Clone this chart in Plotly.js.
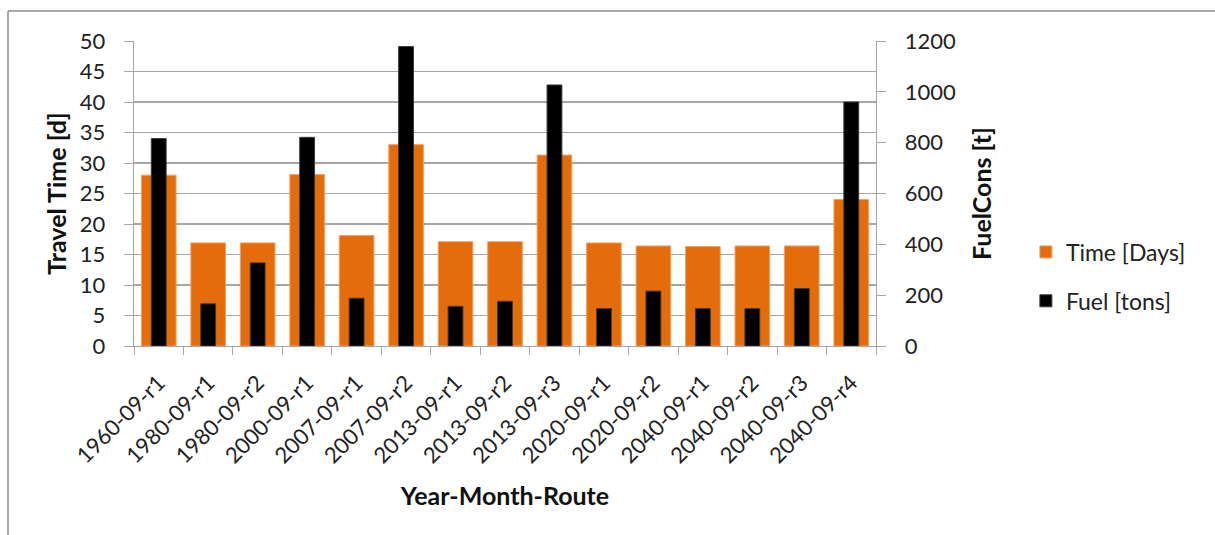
<!DOCTYPE html>
<html>
<head>
<meta charset="utf-8">
<script src="https://cdn.plot.ly/plotly-3.0.1.min.js"></script>
<style>
  html, body { margin: 0; padding: 0; background: #ffffff; }
  #chart { width: 1215px; height: 535px; }
</style>
</head>
<body>
<div id="chart"></div>
<script>
const categories = ["1960-09-r1", "1980-09-r1", "1980-09-r2", "2000-09-r1", "2007-09-r1",
  "2007-09-r2", "2013-09-r1", "2013-09-r2", "2013-09-r3", "2020-09-r1",
  "2020-09-r2", "2040-09-r1", "2040-09-r2", "2040-09-r3", "2040-09-r4"];
const timeDays = [28.0, 16.9, 16.9, 28.1, 18.1, 33.0, 17.1, 17.1, 31.3, 16.9, 16.4, 16.3, 16.4, 16.4, 24.0];
const fuelTons = [816, 166, 327, 821, 188, 1178, 156, 176, 1027, 147, 216, 147, 147, 226, 960];
const leftTicks = [0, 5, 10, 15, 20, 25, 30, 35, 40, 45, 50];
const rightTicks = [0, 200, 400, 600, 800, 1000, 1200];

const FONT = "Lato, 'Open Sans', sans-serif";
const GRID = "#a6a6a6";
const TXT = "#222222";

const traces = [
  {
    type: "bar",
    name: "Time [Days]",
    x: categories,
    y: timeDays,
    yaxis: "y",
    width: 0.7,
    marker: { color: "#e46c0a", line: { color: "#f0a060", width: 1 } },
    legendgroup: "a",
    hoverinfo: "x+y"
  },
  {
    type: "bar",
    name: "Fuel [tons]",
    x: categories,
    y: fuelTons,
    yaxis: "y2",
    width: 0.3,
    marker: { color: "#000000", line: { color: "#3a3a3a", width: 1 } },
    legendgroup: "b",
    hoverinfo: "x+y"
  }
];

const layout = {
  width: 1215,
  height: 535,
  margin: { l: 134, r: 339, t: 41, b: 189, pad: 0 },
  paper_bgcolor: "#ffffff",
  plot_bgcolor: "#ffffff",
  font: { family: FONT, size: 20, color: TXT },
  barmode: "overlay",
  showlegend: true,
  legend: {
    x: 1.202, xanchor: "left",
    y: 0.228, yanchor: "middle",
    font: { family: FONT, size: 23, color: TXT },
    traceorder: "grouped",
    tracegroupgap: 16,
    bgcolor: "rgba(0,0,0,0)"
  },
  xaxis: {
    type: "category",
    tickangle: -45,
    tickson: "boundaries",
    ticks: "outside",
    ticklen: 8,
    tickcolor: GRID,
    showline: true,
    linecolor: GRID,
    linewidth: 1.3,
    showgrid: false,
    ticklabelstandoff: 14,
    tickfont: { family: FONT, size: 22, color: TXT },
    title: { text: "<b>Year-Month-Route</b>", font: { family: FONT, size: 25, color: "#111111" }, standoff: 20 }
  },
  yaxis: {
    range: [0, 50],
    tickvals: leftTicks,
    ticks: "outside",
    ticklen: 9,
    tickcolor: GRID,
    showline: true,
    linecolor: GRID,
    linewidth: 1.3,
    showgrid: true,
    gridcolor: GRID,
    gridwidth: 1.3,
    zeroline: false,
    ticklabelstandoff: 14,
    tickfont: { family: FONT, size: 22, color: TXT },
    title: { text: "<b>Travel Time [d]</b>", font: { family: FONT, size: 25, color: "#111111" }, standoff: 6 }
  },
  yaxis2: {
    range: [0, 1200],
    tickvals: rightTicks,
    overlaying: "y",
    side: "right",
    ticks: "outside",
    ticklen: 9,
    tickcolor: GRID,
    showline: true,
    linecolor: GRID,
    linewidth: 1.3,
    showgrid: false,
    zeroline: false,
    ticklabelstandoff: 14,
    tickfont: { family: FONT, size: 22, color: TXT },
    title: { text: "<b>FuelCons [t]</b>", font: { family: FONT, size: 25, color: "#111111" }, standoff: 18 }
  },
  shapes: [
    { type: "line", xref: "paper", yref: "paper", x0: -0.1698, x1: 1.46, y0: 1.098, y1: 1.098,
      line: { color: "#8c8c8c", width: 1.5 } },
    { type: "line", xref: "paper", yref: "paper", x0: -0.1698, x1: -0.1698, y0: 1.098, y1: -0.63,
      line: { color: "#8c8c8c", width: 1.5 } }
  ]
};

Plotly.newPlot("chart", traces, layout, { displayModeBar: false, staticPlot: true });
</script>
</body>
</html>
